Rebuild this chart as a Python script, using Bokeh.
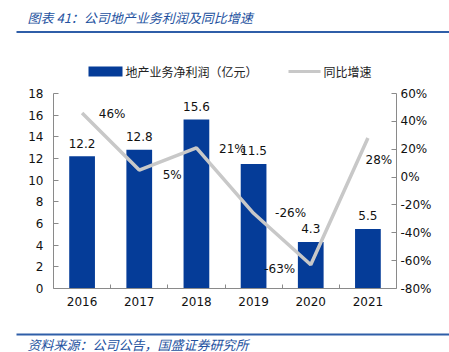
from bokeh.plotting import figure
from bokeh.models import (Range1d, LinearAxis, FixedTicker, NumeralTickFormatter,
                          ColumnDataSource)
from bokeh.layouts import column, row
from bokeh.core.properties import value
from bokeh.embed import file_html
from bokeh.resources import INLINE

# ---------------- data ----------------
years = ["2016", "2017", "2018", "2019", "2020", "2021"]
profit = [12.2, 12.8, 15.6, 11.5, 4.3, 5.5]          # 亿元
growth = [0.46, 0.05, 0.21, -0.26, -0.63, 0.28]       # 同比
left_ticks = [0, 2, 4, 6, 8, 10, 12, 14, 16, 18]
pct_ticks = [-0.8, -0.6, -0.4, -0.2, 0.0, 0.2, 0.4, 0.6]

title_text = "图表 41：公司地产业务利润及同比增速"
source_text = "资料来源：公司公告，国盛证券研究所"
legend_bar = "地产业务净利润（亿元）"
legend_line = "同比增速"

# ---------------- styles ----------------
BAR = "#053C98"
LINE = "#C8C8C8"
BLUE_T = "#2452A0"
RULE = "#2F5EA8"
AX = "#8A8A8A"
NUM_FONT = value("DejaVu Sans")
CJK = value("Noto Sans CJK SC")
# label pixel offsets for growth labels (style only)
lab_dx = [30, 33, 36, 37, -31, 11]
lab_dy = [1, 5, 1, 0, 4, 22]

W = 449

def blank(h):
    f = figure(width=W, height=h, x_range=Range1d(0, W), y_range=Range1d(h, 0),
               output_backend="svg", toolbar_location=None,
               x_axis_location=None, y_axis_location=None,
               min_border=0, outline_line_color=None)
    f.grid.visible = False
    return f

# ---------------- header (title + legend) ----------------
top = blank(85)
top.text(x=[27], y=[17], text=[title_text], text_font=CJK, text_font_size=value("13px"),
         text_font_style="italic", text_color=BLUE_T, text_baseline="middle")
top.segment(x0=[16], y0=[31.5], x1=[449], y1=[31.5], line_color=RULE, line_width=2)
top.quad(left=[88], right=[122], top=[66], bottom=[76], fill_color=BAR, line_color=None)
top.text(x=[125], y=[71], text=[legend_bar], text_font=CJK, text_font_size=value("12px"),
         text_color="#222222", text_baseline="middle")
top.segment(x0=[288], y0=[71], x1=[320], y1=[71], line_color=LINE, line_width=3)
top.text(x=[323], y=[71], text=[legend_line], text_font=CJK, text_font_size=value("12px"),
         text_color="#222222", text_baseline="middle")

# ---------------- main chart ----------------
xs = [i + 0.5 for i in range(len(years))]
src = ColumnDataSource(dict(
    x=xs, profit=profit, growth=growth,
    plab=[f"{v:.1f}" for v in profit],
    glab=[f"{round(g * 100)}%" for g in growth],
    dx=lab_dx, dy=lab_dy,
))

p = figure(width=W, height=237, x_range=Range1d(0, len(years)), y_range=Range1d(0, 18),
           output_backend="svg", toolbar_location=None,
           x_axis_location=None, y_axis_location=None,
           min_border_left=53, min_border_right=53, min_border_top=8, min_border_bottom=34,
           outline_line_color=None)
p.grid.visible = False
p.extra_y_ranges = {"pct": Range1d(-0.8, 0.6)}

p.vbar(x="x", top="profit", width=0.45, source=src, fill_color=BAR, line_color=None)
p.line(x="x", y="growth", source=src, y_range_name="pct", line_color=LINE, line_width=3.5)

p.text(x="x", y="profit", text="plab", source=src, y_offset=-13,
       text_align="center", text_baseline="middle",
       text_font=NUM_FONT, text_font_size=value("12px"), text_color="#111111")
p.text(x="x", y="growth", text="glab", source=src, y_range_name="pct",
       x_offset="dx", y_offset="dy",
       text_align="center", text_baseline="middle",
       text_font=NUM_FONT, text_font_size=value("12px"), text_color="#111111")

def style_axis(a):
    a.axis_line_color = AX
    a.major_tick_line_color = AX
    a.minor_tick_line_color = AX
    a.major_label_text_font = "DejaVu Sans"
    a.major_label_text_font_size = "12px"
    a.major_label_text_color = "#111111"

ly = LinearAxis(ticker=FixedTicker(ticks=left_ticks))
style_axis(ly)
ly.major_tick_in = 5
ly.major_tick_out = 0
ly.minor_tick_in = 0
ly.minor_tick_out = 0
ly.major_label_standoff = 10
p.add_layout(ly, "left")

ry = LinearAxis(y_range_name="pct", ticker=FixedTicker(ticks=pct_ticks),
                formatter=NumeralTickFormatter(format="0%"))
style_axis(ry)
ry.major_tick_in = 5
ry.major_tick_out = 0
ry.minor_tick_in = 0
ry.minor_tick_out = 0
ry.major_label_standoff = 4
p.add_layout(ry, "right")

bx = LinearAxis(ticker=FixedTicker(ticks=xs, minor_ticks=[1, 2, 3, 4, 5]))
style_axis(bx)
bx.major_label_overrides = {x: y for x, y in zip(xs, years)}
bx.major_tick_in = 0
bx.major_tick_out = 0
bx.minor_tick_in = 4
bx.minor_tick_out = 0
bx.major_label_standoff = 8
p.add_layout(bx, "below")

# ---------------- footer ----------------
bot = blank(30)
bot.segment(x0=[16], y0=[12], x1=[449], y1=[12], line_color=RULE, line_width=2)
bot.text(x=[27], y=[21.5], text=[source_text], text_font=CJK, text_font_size=value("13px"),
         text_font_style="italic", text_color=BLUE_T, text_baseline="middle")

layout = column(row(top), p, row(bot), spacing=0)
open("out.html", "w").write(file_html(layout, INLINE))
